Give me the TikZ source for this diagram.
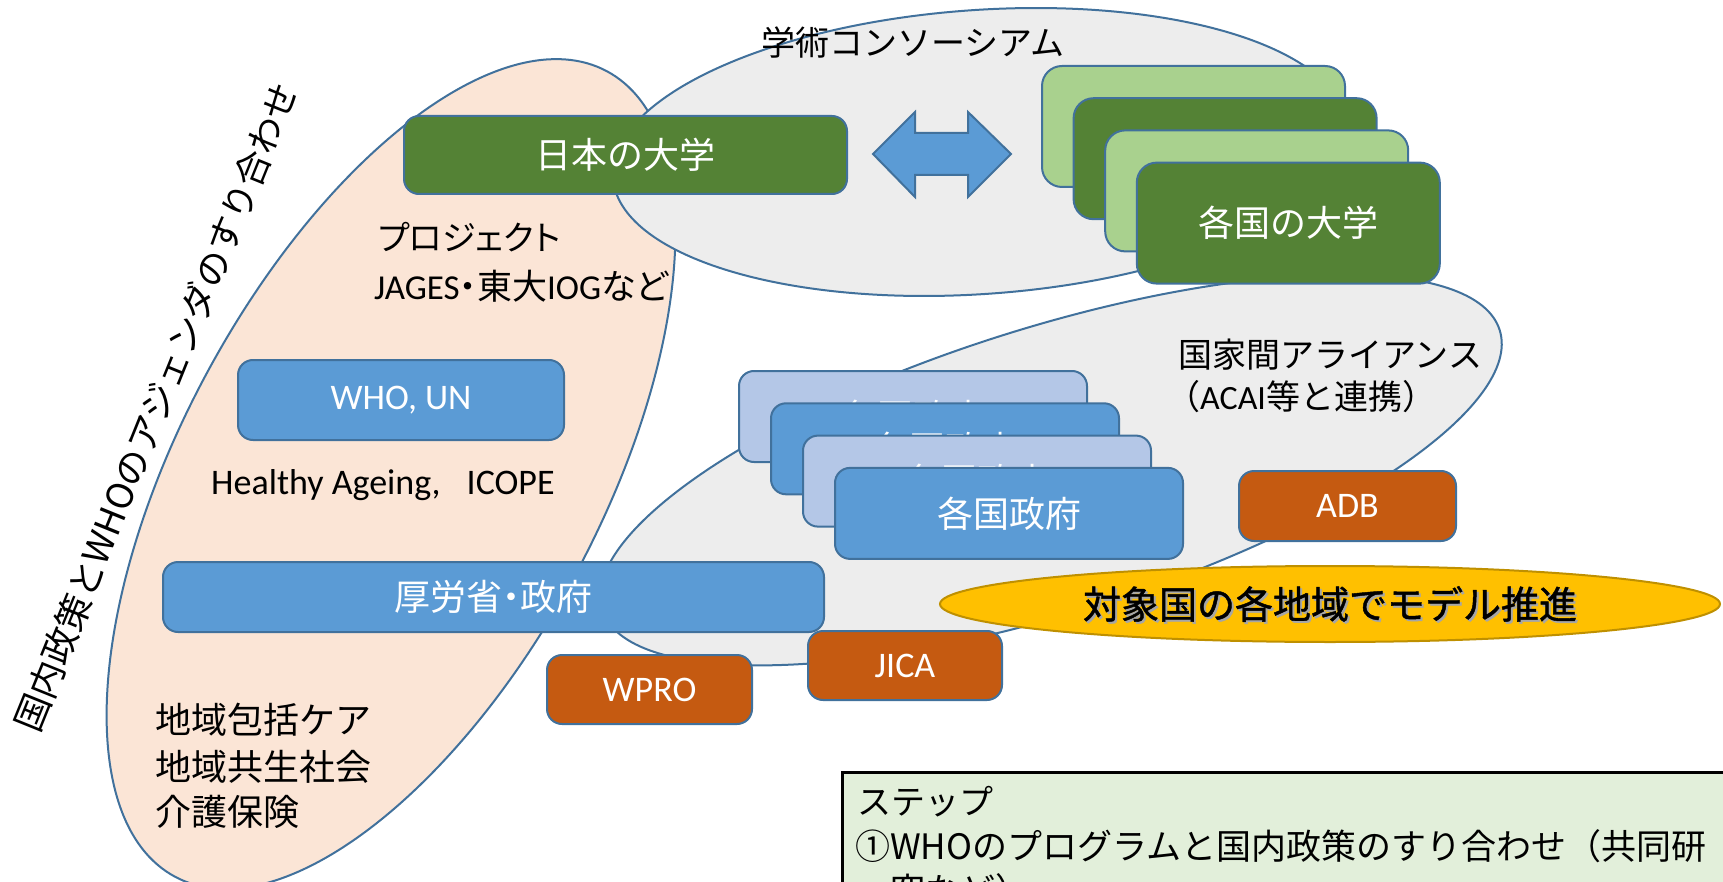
\documentclass[tikz,border=0pt]{standalone}
\usepackage{fontspec}
\setmainfont{Noto Sans CJK JP}
\newfontfamily\jpprop{Noto Sans CJK JP}[RawFeature=+palt]
\newfontfamily\jpheavy{Noto Sans CJK JP}[FakeBold=1.2]
\newfontfamily\latin{Carlito}
\usetikzlibrary{shapes.geometric}

\definecolor{edge}{HTML}{41719C}
\definecolor{peach}{HTML}{FBE5D6}
\definecolor{haze}{HTML}{EDEDED}
\definecolor{leaf}{HTML}{548235}
\definecolor{sprout}{HTML}{A9D18E}
\definecolor{sky}{HTML}{5B9BD5}
\definecolor{mist}{HTML}{B4C7E7}
\definecolor{rust}{HTML}{C55A11}
\definecolor{gold}{HTML}{FFC000}
\definecolor{goldedge}{HTML}{BF9000}
\definecolor{stepbg}{HTML}{E2EFDA}

\newcommand{\fsz}[1]{\fontsize{#1}{#1}\selectfont}

\tikzset{
  blob/.style={ellipse, draw=edge, line width=2pt, inner sep=0pt},
  box/.style={rectangle, rounded corners=15pt, draw=edge, line width=2pt, text=white, inner sep=0pt},
  lbl/.style={inner sep=0pt, text=black},
}

\begin{document}
\begin{tikzpicture}[x=1pt, y=-1pt]
    \useasboundingbox (0, 0) rectangle (1723, 882);

    \node[blob, fill=peach, minimum width=914pt, minimum height=420pt, rotate=61.8] (policy) at (391, 474) {};
    \node[blob, fill=haze, minimum width=736pt, minimum height=284pt, rotate=4] (consortium) at (980, 152) {};
    \node[blob, fill=haze, minimum width=940pt, minimum height=286pt, rotate=17.3] (alliance) at (1051, 470) {};

    \node[lbl, rotate=68] (agenda) at (156, 407) {\fsz{36}国内政策とWHOのアジェンダのすり合わせ};
    \node[lbl] (consortiumlbl) at (913, 43) {\fsz{34}学術コンソーシアム};
    \node[lbl, anchor=west] (project) at (378, 237) {\fsz{34}\jpprop プロジェクト};
    \node[lbl, anchor=west] (jages) at (374, 286) {\fsz{35}\jpprop{\latin JAGES}・東大{\latin IOG}など};
    \node[lbl, anchor=west] (ageing) at (211, 485) {\fsz{36}\latin Healthy Ageing,\hspace{26pt}ICOPE};
    \node[lbl, anchor=west] (care1) at (155, 720) {\fsz{36}地域包括ケア};
    \node[lbl, anchor=west] (care2) at (155, 767) {\fsz{36}地域共生社会};
    \node[lbl, anchor=west] (care3) at (155, 812) {\fsz{36}介護保険};
    \node[lbl, anchor=west] (alliancelbl) at (1178, 355) {\fsz{34}国家間アライアンス};
    \node[lbl, anchor=west] (acai) at (1166, 397) {\fsz{34}（{\latin ACAI}等と連携）};

    \node[box, fill=leaf, minimum width=443pt, minimum height=78pt] (japan) at (625.5, 155) {\fsz{36}日本の大学};

    % block arrow between the universities
    \draw[fill=sky, draw=edge, line width=2pt, line join=miter]
        (873, 154) -- (915, 112) -- (915, 133) -- (968, 133) -- (968, 112) -- (1011, 154)
        -- (968, 197) -- (968, 175) -- (915, 175) -- (915, 197) -- cycle;

    \foreach \i/\c in {0/sprout, 1/leaf, 2/sprout}
        \node[box, rounded corners=20pt, fill=\c, minimum width=303pt, minimum height=121pt] (uni\i) at (1193.5+31.6*\i, 126.5+32.2*\i) {};
    \node[box, rounded corners=20pt, fill=leaf, minimum width=303pt, minimum height=121pt] (uni) at (1288.3, 223.1) {\fsz{36}各国の大学};

    \foreach \i/\c in {0/mist, 1/sky, 2/mist}
        \node[box, fill=\c, minimum width=348pt, minimum height=91pt] (gov\i) at (913+32*\i, 416.5+32.3*\i) {\fsz{36}各国政府};
    \node[box, fill=sky, minimum width=348pt, minimum height=91pt] (gov) at (1009, 513.4) {\fsz{36}各国政府};

    \node[box, fill=sky, minimum width=326pt, minimum height=80pt] (who) at (401, 400) {\fsz{36}\latin WHO, UN};
    \node[box, fill=sky, minimum width=661pt, minimum height=70pt] (mhlw) at (493.5, 597) {\fsz{36}\jpprop 厚労省・政府};

    \node[box, fill=rust, minimum width=205pt, minimum height=69pt] (wpro) at (649.5, 689.5) {\fsz{36}\latin WPRO};
    \node[box, fill=rust, minimum width=194pt, minimum height=69pt] (jica) at (905, 665.5) {\fsz{36}\latin JICA};
    \node[box, fill=rust, minimum width=217pt, minimum height=70pt] (adb) at (1347.5, 506) {\fsz{36}\latin ADB};

    \node[ellipse, fill=gold, draw=goldedge, line width=2pt, minimum width=780pt, minimum height=76pt] (model) at (1330, 604) {};
    \node[lbl, text=black!35] (modelshade) at ([shift={(2,2)}]model.center) {\fsz{38}\jpheavy 対象国の各地域でモデル推進};
    \node[lbl] (modellbl) at (model.center) {\fsz{38}\jpheavy 対象国の各地域でモデル推進};

    \node[draw=black, line width=3pt, fill=stepbg, anchor=north west, minimum width=900pt, minimum height=140pt] (steps) at (841, 771) {};
    \node[lbl, anchor=west] (step0) at (857, 802) {\fsz{34}ステップ};
    \node[lbl, anchor=west] (step1) at (855, 846) {\fsz{35}①WHOのプログラムと国内政策のすり合わせ（共同研};
    \node[lbl, anchor=west] (step2) at (890, 890) {\fsz{35}究など）};

\end{tikzpicture}
\end{document}
